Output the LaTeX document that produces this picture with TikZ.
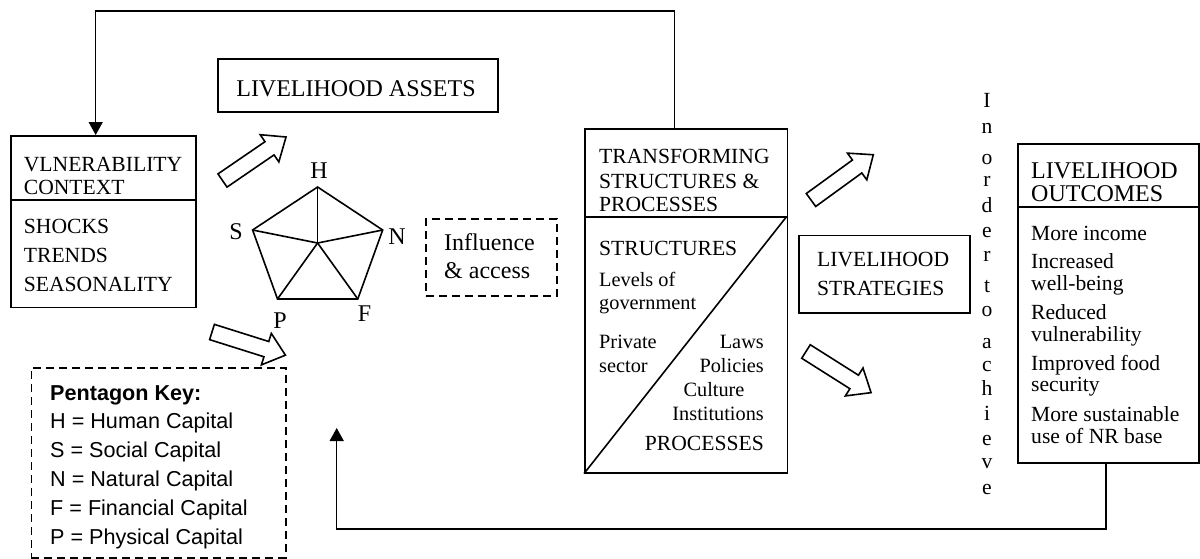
\documentclass[tikz,border=0pt]{standalone}
\usepackage{fontspec}
\setmainfont{Liberation Serif}
\newfontfamily\keyfont{Liberation Sans}
\usetikzlibrary{arrows.meta}
\newcommand\hollowarrow[3]{\draw[hollow, shift={(#1)}, rotate=#2] (0,-8) -- (57,-8) -- (57,-16.5) -- (77,0) -- (57,16.5) -- (57,8) -- (0,8) -- cycle;}
\begin{document}
\begin{tikzpicture}[x=1pt,y=-1pt,
  boxline/.style={line width=1.6pt},
  box/.style={draw, line width=1.6pt, inner sep=0pt, anchor=north west},
  dbox/.style={box, dash pattern=on 8pt off 5pt},
  txt/.style={inner sep=0pt, anchor=base west, font=\fontsize{21.6}{24}\selectfont},
  txtc/.style={txt, anchor=base},
  txte/.style={txt, anchor=base east},
  bigtxt/.style={font=\fontsize{24}{26}\selectfont},
  smalltxt/.style={font=\fontsize{20.3}{22}\selectfont},
  keytxt/.style={txt, font=\keyfont\fontsize{21.6}{24}\selectfont},
  hollow/.style={draw, line width=1.6pt, fill=white, line join=miter},
  link/.style={line width=1.5pt, -{Triangle[width=14pt,length=13pt]}},
]
\useasboundingbox (0,0) rectangle (1200,558);

% boxes
\node[box, minimum width=184.7pt, minimum height=171.7pt] (vul) at (10.3,135) {};
\node[box, minimum width=280pt, minimum height=53pt] (assets) at (217,58) {};
\node[dbox, minimum width=131pt, minimum height=77pt] (infl) at (425,218) {};
\node[box, minimum width=202.5pt, minimum height=344pt] (trans) at (584,128) {};
\node[box, minimum width=171pt, minimum height=77.5pt] (strat) at (798,234.5) {};
\node[box, minimum width=181pt, minimum height=319pt] (outc) at (1017,143) {};
\node[dbox, minimum width=254.4pt, minimum height=190pt] (key) at (30.6,367) {};

% dividers
\draw[boxline] (10.3,200) -- (195,200);
\draw[boxline] (584,216.7) -- (786.5,216.7);
\draw[boxline] (trans.south west) -- (786.5,216.7);
\draw[boxline] (1017,207) -- (1198,207);

% feedback connectors
\coordinate (tx) at (674.6,11);
\coordinate (vx) at (95.7,11);
\draw[link] (tx |- trans.north) -- (tx) -- (vx) -- (vx |- vul.north);
\coordinate (bx) at (1106,529);
\coordinate (ax) at (336.7,529);
\coordinate (atip) at (336.7,428);
\draw[link] (bx |- outc.south) -- (bx) -- (ax) -- (atip);

% hollow arrows
\hollowarrow{222.5,180.5}{34.4}{}
\hollowarrow{212,332}{-17.5}{}
\hollowarrow{811,200}{36}{}
\hollowarrow{806,351.5}{-32.3}{}

% pentagon
\coordinate (pH) at (317.6,187);
\coordinate (pN) at (382.7,230);
\coordinate (pF) at (357.8,299);
\coordinate (pP) at (277.5,299);
\coordinate (pS) at (252.6,230);
\coordinate (pC) at (317.6,243);
\draw[boxline, line join=miter] (pH) -- (pN) -- (pF) -- (pP) -- (pS) -- cycle;
\foreach \v in {pH,pN,pF,pP,pS} \draw[boxline] (pC) -- (\v);
\node[txtc, bigtxt] (lH) at (319,178) {H};
\node[txtc, bigtxt] (lS) at (236,239) {S};
\node[txtc, bigtxt] (lN) at (397,244) {N};
\node[txtc, bigtxt] (lP) at (280,328) {P};
\node[txtc, bigtxt] (lF) at (364.5,321.7) {F};

% vulnerability texts
\node[txt] (v1) at (23.7,171) {VLNERABILITY};
\node[txt] (v2) at (23.7,194) {CONTEXT};
\node[txt] (v3) at (23.7,233) {SHOCKS};
\node[txt] (v4) at (23.7,262) {TRENDS};
\node[txt] (v5) at (23.7,291) {SEASONALITY};

% assets
\node[txtc, bigtxt] (assetsT) at (356,96.5) {LIVELIHOOD ASSETS};

% influence
\node[txt, bigtxt] (i1) at (444,250.7) {Influence};
\node[txt, bigtxt] (i2) at (444,278) {\& access};

% transforming
\node[txt] (t1) at (599,163.5) {TRANSFORMING};
\node[txt] (t2) at (599,188.3) {STRUCTURES \&};
\node[txt] (t3) at (599,211.7) {PROCESSES};
\node[txt] (t4) at (599,255) {STRUCTURES};
\node[txt, smalltxt] (t5) at (599,286) {Levels of};
\node[txt, smalltxt] (t6) at (599,309) {government};
\node[txt, smalltxt] (t7) at (599,348) {Private};
\node[txt, smalltxt] (t8) at (599,372.7) {sector};
\node[txte, smalltxt] (t9) at (764,348) {Laws};
\node[txte, smalltxt] (t10) at (764,372.7) {Policies};
\node[txtc, smalltxt] (t11) at (714,396.7) {Culture};
\node[txte, smalltxt] (t12) at (764,420.7) {Institutions};
\node[txte] (t13) at (764,450) {PROCESSES};

% strategies
\node[txt] (s1) at (817,266.7) {LIVELIHOOD};
\node[txt] (s2) at (817,295.7) {STRATEGIES};

% vertical text
\foreach \c/\y [count=\i] in {I/107,n/133,o/164,r/186,d/212,e/237,r/261,t/292,o/316,a/348,c/371,h/395,i/420,e/445,v/468,e/494}
  \node[txtc] (vt\i) at (987,\y) {\c};

% outcomes
\node[txt, bigtxt] (o1) at (1031,178.3) {LIVELIHOOD};
\node[txt, bigtxt] (o2) at (1031,201.7) {OUTCOMES};
\node[txt] (o3) at (1031,240.7) {More income};
\node[txt] (o4) at (1031,268.3) {Increased};
\node[txt] (o5) at (1031,290.5) {well-being};
\node[txt] (o6) at (1031,319) {Reduced};
\node[txt] (o7) at (1031,341.7) {vulnerability};
\node[txt] (o8) at (1031,370) {Improved food};
\node[txt] (o9) at (1031,391.7) {security};
\node[txt] (o10) at (1031,421.7) {More sustainable};
\node[txt] (o11) at (1031,443.3) {use of NR base};

% key
\node[keytxt, font=\keyfont\bfseries\fontsize{21.6}{24}\selectfont] (k0) at (50,400) {Pentagon Key:};
\node[keytxt] (k1) at (50,428.3) {H = Human Capital};
\node[keytxt] (k2) at (50,457.3) {S = Social Capital};
\node[keytxt] (k3) at (50,486) {N = Natural Capital};
\node[keytxt] (k4) at (50,515) {F = Financial Capital};
\node[keytxt] (k5) at (50,544) {P = Physical Capital};
\end{tikzpicture}
\end{document}
